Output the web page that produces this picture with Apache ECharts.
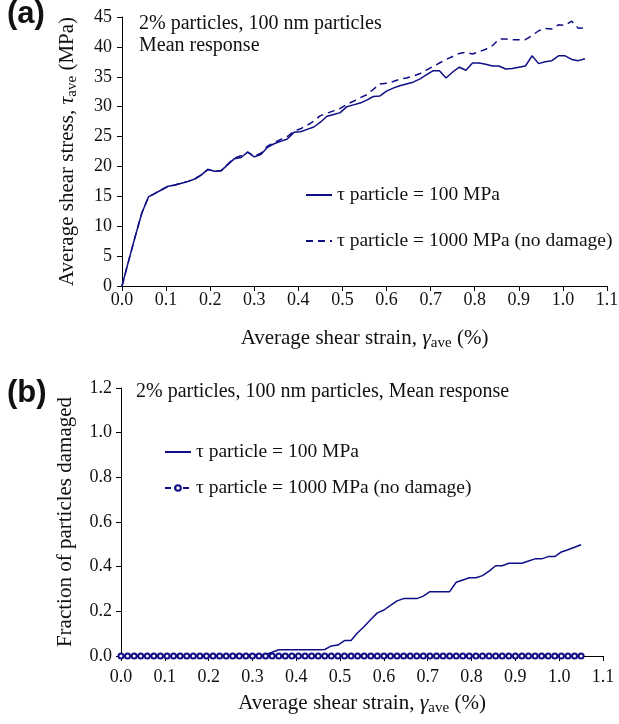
<!DOCTYPE html>
<html>
<head>
<meta charset="utf-8">
<script src="https://cdn.jsdelivr.net/npm/echarts@6/dist/echarts.min.js"></script>
<style>
html,body{margin:0;padding:0;background:#fff;}
#c{width:619px;height:724px;}
</style>
</head>
<body>
<div id="c"></div>
<script>
// strain values (%) : 0 to 1.05 step 0.015 (71 points)
const strainStep = 0.015;
const nPts = 71;
const strain = Array.from({length: nPts}, (_, i) => +(i * strainStep).toFixed(3));

// (a) average shear stress (MPa)
const stress100 = [
  0, 4.2, 8.3, 12.2, 14.9, 15.5, 16.1, 16.7, 16.9, 17.2,
  17.5, 17.9, 18.6, 19.5, 19.2, 19.3, 20.3, 21.3, 21.5, 22.4,
  21.6, 22.0, 23.2, 23.8, 24.2, 24.6, 25.7, 25.8, 26.2, 26.6,
  27.4, 28.4, 28.7, 29.0, 30.0, 30.3, 30.6, 31.1, 31.7, 31.8,
  32.6, 33.1, 33.5, 33.8, 34.1, 34.6, 35.3, 36.0, 36.0, 34.8,
  35.8, 36.6, 36.1, 37.3, 37.3, 37.1, 36.8, 36.8, 36.3, 36.4,
  36.6, 36.8, 38.5, 37.2, 37.5, 37.7, 38.5, 38.5, 37.9, 37.7,
  38.0
];
const stress1000 = [
  0, 4.2, 8.3, 12.2, 14.9, 15.5, 16.1, 16.7, 16.9, 17.2,
  17.5, 17.9, 18.6, 19.5, 19.2, 19.3, 20.4, 21.4, 21.8, 22.4,
  21.7, 22.2, 23.4, 24.0, 24.5, 25.0, 25.9, 26.3, 26.9, 27.6,
  28.5, 28.9, 29.3, 29.7, 30.4, 30.9, 31.5, 32.0, 32.9, 33.8,
  33.9, 34.2, 34.6, 34.8, 35.1, 35.5, 36.1, 36.7, 37.3, 37.9,
  38.4, 38.9, 39.1, 38.8, 39.2, 39.6, 40.2, 41.3, 41.3, 41.2,
  41.2, 41.2, 41.9, 42.7, 43.1, 43.0, 43.7, 43.6, 44.3, 43.1,
  43.2
];

// (b) fraction of particles damaged
const damage100 = [
  0, 0, 0, 0, 0, 0, 0, 0, 0, 0,
  0, 0, 0, 0, 0, 0, 0, 0.006, 0.006, 0.006,
  0.006, 0.006, 0.007, 0.017, 0.028, 0.028, 0.028, 0.028, 0.028, 0.028,
  0.028, 0.029, 0.045, 0.049, 0.069, 0.069, 0.104, 0.132, 0.163, 0.193,
  0.206, 0.227, 0.247, 0.257, 0.257, 0.257, 0.268, 0.288, 0.288, 0.288,
  0.288, 0.330, 0.340, 0.350, 0.350, 0.360, 0.380, 0.404, 0.404, 0.415,
  0.415, 0.415, 0.425, 0.435, 0.435, 0.445, 0.445, 0.466, 0.476, 0.487,
  0.498
];
const damage1000 = strain.map(() => 0);

const xTicksMin = 0, xTicksMax = 1.1, xTickStep = 0.1;
const yTicksA = {min: 0, max: 45, step: 5};
const yTicksB = {min: 0, max: 1.2, step: 0.2};

const nameSolid = 'τ particle = 100 MPa';
const nameDash = 'τ particle = 1000 MPa (no damage)';

const NAVY = '#0e0e86';
const SERIF = '"Liberation Serif", "Times New Roman", serif';

const pair = (xs, ys) => xs.map((x, i) => [x, ys[i]]);

const axisCommon = {
  axisLine: {show: true, lineStyle: {color: '#000', width: 1}},
  axisTick: {show: true, inside: false, length: 5, lineStyle: {color: '#000'}},
  splitLine: {show: false},
  axisLabel: {color: '#111', fontFamily: SERIF, fontSize: 18}
};

const richName = {
  n: {fontFamily: SERIF, fontSize: 21, color: '#111', lineHeight: 26, verticalAlign: 'middle'},
  it: {fontFamily: SERIF, fontSize: 22, fontStyle: 'italic', color: '#111', lineHeight: 26, verticalAlign: 'middle'},
  sub: {fontFamily: SERIF, fontSize: 15, color: '#111', verticalAlign: 'bottom', padding: [11, 0, 0, 0]}
};

function xAxisDef(gridIndex, margin, gap) {
  return Object.assign({}, axisCommon, {
    type: 'value', gridIndex,
    min: xTicksMin, max: xTicksMax, interval: xTickStep,
    axisLabel: Object.assign({}, axisCommon.axisLabel, {margin, formatter: v => v.toFixed(1)}),
    name: '{n|Average shear strain, }{it|γ}{sub|ave}{n| (%)}',
    nameLocation: 'middle', nameGap: gap,
    nameTextStyle: {rich: richName}
  });
}

const legendText = {fontFamily: SERIF, fontSize: 19.5, color: '#111'};
const noSymbol = {opacity: 0};

const chart = echarts.init(document.getElementById('c'), null, {renderer: 'canvas'});
chart.setOption({
  backgroundColor: '#fff',
  animation: false,
  grid: [
    {left: 122, top: 17, width: 485, height: 269, outerBoundsMode: 'none', containLabel: false},
    {left: 121, top: 388, width: 482, height: 268, outerBoundsMode: 'none', containLabel: false}
  ],
  xAxis: [xAxisDef(0, 5, 39), xAxisDef(1, 12, 34)],
  yAxis: [
    Object.assign({}, axisCommon, {
      type: 'value', gridIndex: 0, min: yTicksA.min, max: yTicksA.max, interval: yTicksA.step,
      axisLabel: Object.assign({}, axisCommon.axisLabel, {margin: 10}),
      name: '{n|Average shear stress, }{it|τ}{sub|ave}{n| (MPa)}',
      nameLocation: 'middle', nameGap: 42, nameRotate: 90,
      nameTextStyle: {rich: richName}
    }),
    Object.assign({}, axisCommon, {
      type: 'value', gridIndex: 1, min: yTicksB.min, max: yTicksB.max, interval: yTicksB.step,
      axisLabel: Object.assign({}, axisCommon.axisLabel, {margin: 9, formatter: v => v.toFixed(1)}),
      name: '{n|Fraction of particles damaged}',
      nameLocation: 'middle', nameGap: 43, nameRotate: 90,
      nameTextStyle: {rich: richName}
    })
  ],
  legend: [
    {
      data: [{name: nameSolid, itemStyle: noSymbol}, {name: nameDash, itemStyle: noSymbol}],
      orient: 'vertical', left: 300, top: 180,
      itemWidth: 26, itemHeight: 12, itemGap: 26,
      textStyle: legendText, selectedMode: false
    },
    {
      data: [{name: nameSolid + ' ', itemStyle: noSymbol}, {name: nameDash + ' '}],
      orient: 'vertical', left: 159, top: 437,
      itemWidth: 26, itemHeight: 7, itemGap: 16,
      textStyle: legendText, selectedMode: false
    }
  ],
  series: [
    {
      name: nameSolid, type: 'line', xAxisIndex: 0, yAxisIndex: 0,
      data: pair(strain, stress100), symbol: 'none',
      lineStyle: {color: NAVY, width: 1.5}, itemStyle: {color: NAVY}
    },
    {
      name: nameDash, type: 'line', xAxisIndex: 0, yAxisIndex: 0,
      data: pair(strain, stress1000), symbol: 'none',
      lineStyle: {color: NAVY, width: 1.5, type: [7, 5]}, itemStyle: {color: NAVY}
    },
    {
      name: nameSolid + ' ', type: 'line', xAxisIndex: 1, yAxisIndex: 1,
      data: pair(strain, damage100), symbol: 'none',
      lineStyle: {color: NAVY, width: 1.5}, itemStyle: {color: NAVY}
    },
    {
      name: nameDash + ' ', type: 'line', xAxisIndex: 1, yAxisIndex: 1,
      data: pair(strain, damage1000), symbol: 'emptyCircle', symbolSize: 5, showAllSymbol: true,
      lineStyle: {color: NAVY, width: 1.5, type: [6, 3]},
      itemStyle: {color: NAVY, borderColor: NAVY, borderWidth: 1}
    }
  ],
  graphic: [
    {type: 'text', left: 7, top: -1, style: {text: '(a)', font: 'bold 31px "Liberation Sans", Arial, sans-serif', fill: '#111'}},
    {type: 'text', left: 7, top: 378, style: {text: '(b)', font: 'bold 31px "Liberation Sans", Arial, sans-serif', fill: '#111'}},
    {type: 'text', left: 139, top: 14, style: {text: '2% particles, 100 nm particles', font: '20px ' + SERIF, fill: '#111'}},
    {type: 'text', left: 139, top: 36, style: {text: 'Mean response', font: '20px ' + SERIF, fill: '#111'}},
    {type: 'text', left: 136, top: 382, style: {text: '2% particles, 100 nm particles, Mean response', font: '20px ' + SERIF, fill: '#111'}}
  ]
});
</script>
</body>
</html>
